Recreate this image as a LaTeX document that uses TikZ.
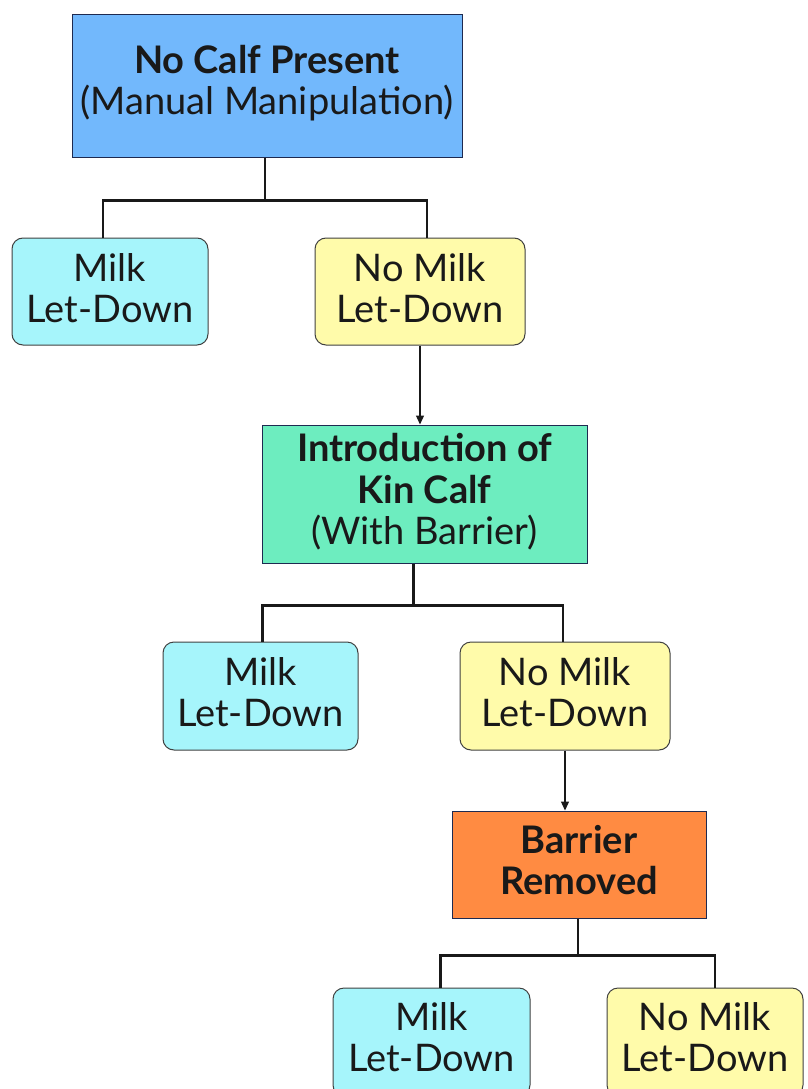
\documentclass[tikz,border=0pt]{standalone}
\usepackage{fontspec}
\setmainfont{Lato}
\usetikzlibrary{arrows.meta}
\definecolor{cblue}{HTML}{72B8FC}
\definecolor{ccyan}{HTML}{A6F5FB}
\definecolor{cyellow}{HTML}{FFFBAA}
\definecolor{cgreen}{HTML}{6DEDBF}
\definecolor{corange}{HTML}{FF8B42}
\definecolor{cborder}{HTML}{1E2A50}
\tikzset{
  txt/.style={font=\fontsize{38}{41.5}\selectfont, align=center, inner sep=0pt, text=black!90},
  sqbox/.style={draw=cborder, line width=1pt, inner sep=0pt},
  rbox/.style={draw=black!75, line width=1pt, rounded corners=11pt, inner sep=0pt},
  tree/.style={draw=black!90, line width=2.6pt},
  arr/.style={draw=black!90, line width=1.3pt, -{Triangle[length=9pt,width=8pt]}}
}
\begin{document}
\begin{tikzpicture}[x=1pt,y=-1pt]
\useasboundingbox (0,0) rectangle (808,1089);
\clip (0,0) rectangle (808,1089);
\node[sqbox, fill=cblue, minimum width=390pt, minimum height=142pt] (top) at (267,86) {};
\node[txt] (toptxt) at (267,83) {\textbf{No Calf Present}\\(Manual Manipulation)};
\node[rbox, fill=ccyan, minimum width=196pt, minimum height=107pt] (m1) at (110,291.5) {};
\node[txt] (m1t) at (110,288) {Milk\\Let-Down};
\node[rbox, fill=cyellow, minimum width=210pt, minimum height=107pt] (n1) at (420,291.5) {};
\node[txt] (n1t) at (420,288) {No Milk\\Let-Down};
\node[sqbox, fill=cgreen, minimum width=325pt, minimum height=138pt] (kin) at (424.5,494) {};
\node[txt] (kint) at (424.5,492) {\textbf{Introduction of}\\\textbf{Kin Calf}\\(With Barrier)};
\node[rbox, fill=ccyan, minimum width=195pt, minimum height=108pt] (m2) at (260.5,696) {};
\node[txt] (m2t) at (260.5,692) {Milk\\Let-Down};
\node[rbox, fill=cyellow, minimum width=210pt, minimum height=108pt] (n2) at (565,696) {};
\node[txt] (n2t) at (565,692) {No Milk\\Let-Down};
\node[sqbox, fill=corange, minimum width=254pt, minimum height=107pt] (bar) at (579,864.5) {};
\node[txt] (bart) at (579,860) {\textbf{Barrier}\\\textbf{Removed}};
\node[rbox, fill=ccyan, minimum width=197pt, minimum height=108pt] (m3) at (431.5,1042) {};
\node[txt] (m3t) at (431.5,1037) {Milk\\Let-Down};
\node[rbox, fill=cyellow, minimum width=196pt, minimum height=108pt] (n3) at (705,1042) {};
\node[txt] (n3t) at (705,1037) {No Milk\\Let-Down};

\coordinate (j1) at ([xshift=-2pt]top.south);
\coordinate (j2) at ([xshift=-11pt]kin.south);
\coordinate (j3) at ([xshift=-1pt]bar.south);
% tree 1
\draw[tree] (j1) -- ++(0,43) coordinate (h1);
\draw[tree] ([xshift=-7pt]m1.north) |- (h1) -| ([xshift=7pt]n1.north);
% arrow 1
\draw[arr] (n1.south) -- (n1.south |- kin.north);
% tree 2
\draw[tree] (j2) -- ++(0,42) coordinate (h2);
\draw[tree] ([xshift=2pt]m2.north) |- (h2) -| ([xshift=-2pt]n2.north);
% arrow 2
\draw[arr] (n2.south) -- (n2.south |- bar.north);
% tree 3
\draw[tree] (j3) -- ++(0,37) coordinate (h3);
\draw[tree] ([xshift=9pt]m3.north) |- (h3) -| ([xshift=10pt]n3.north);
\end{tikzpicture}
\end{document}
